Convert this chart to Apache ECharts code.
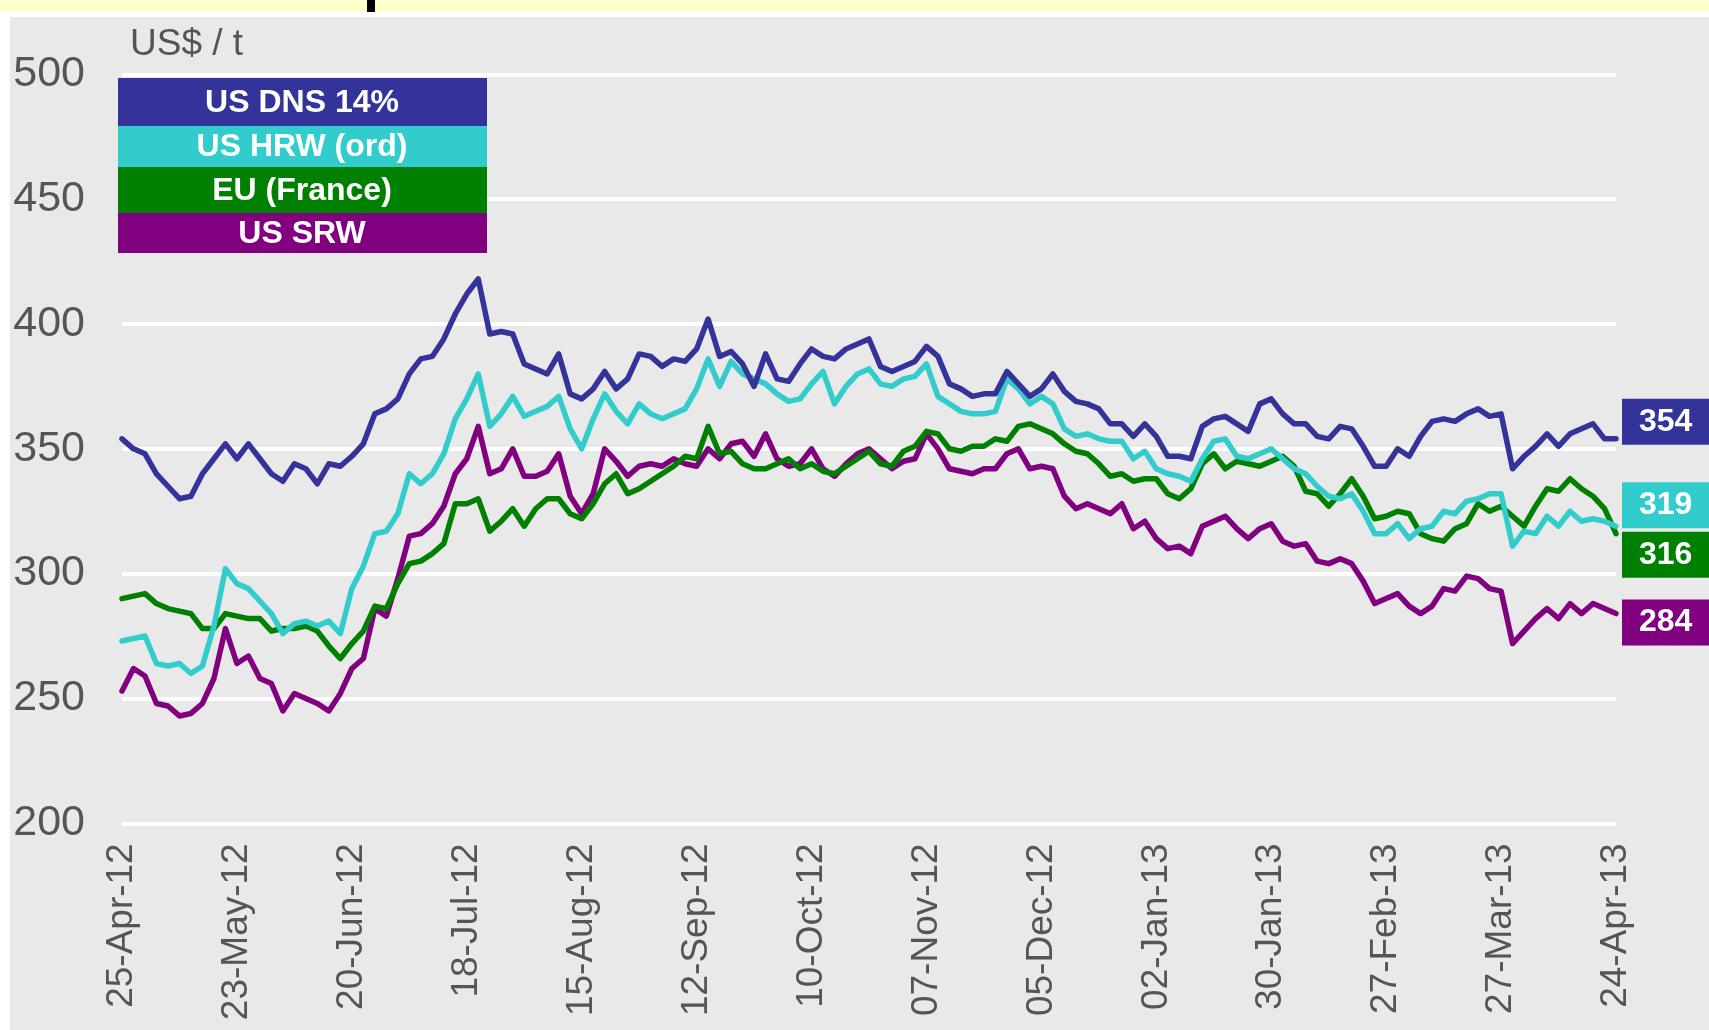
<!DOCTYPE html>
<html>
<head>
<meta charset="utf-8">
<script src="https://cdn.jsdelivr.net/npm/echarts@6/dist/echarts.min.js"></script>
<style>
  html, body { margin: 0; padding: 0; background: #ffffff; }
  #wrap { position: relative; width: 1709px; height: 1030px; overflow: hidden; }
  #topband { position: absolute; left: 0; top: 0; width: 1709px; height: 12px; background: #ffffcc; }
  #mark { position: absolute; left: 367px; top: 0; width: 8px; height: 12px; background: #000; }
  #panel { position: absolute; left: 10px; top: 17px; right: 0; bottom: 0; background: #e9e9e9; }
  #chart { position: absolute; left: 0; top: 0; width: 1709px; height: 1030px; }
</style>
</head>
<body>
<div id="wrap">
  <div id="topband"></div>
  <div id="mark"></div>
  <div id="panel"></div>
  <div id="chart"></div>
</div>
<script>
// Tick labels (every 20 business days = every 10th point; points are every 2 business days)
const tickLabels = ["25-Apr-12","23-May-12","20-Jun-12","18-Jul-12","15-Aug-12","12-Sep-12","10-Oct-12",
  "07-Nov-12","05-Dec-12","02-Jan-13","30-Jan-13","27-Feb-13","27-Mar-13","24-Apr-13"];
const seriesNames = ["US DNS 14%", "US HRW (ord)", "EU (France)", "US SRW"];
const seriesColors = ["#333399", "#33cccc", "#008000", "#800080"];

const usDns = [354,350,348,340,335,330,331,340,346,352,346,352,346,340,337,344,342,336,344,343,347,352,
  364,366,370,380,386,387,394,404,412,418,396,397,396,384,382,380,388,372,370,374,381,374,
  378,388,387,383,386,385,390,402,387,389,384,375,388,378,377,384,390,387,386,390,392,394,
  383,381,383,385,391,387,376,374,371,372,372,381,376,371,374,380,373,369,368,366,360,
  360,355,360,355,347,347,346,359,362,363,360,357,368,370,364,360,360,355,354,359,358,351,
  343,343,350,347,355,361,362,361,364,366,363,364,342,347,351,356,351,356,358,360,354,354];

const usHrw = [273,274,275,264,263,264,260,263,279,302,296,294,289,284,276,280,281,279,281,276,294,303,
  316,317,324,340,336,340,348,362,370,380,359,364,371,363,365,367,371,358,350,362,372,365,
  360,368,364,362,364,366,374,386,375,385,380,378,376,372,369,370,376,381,368,375,380,382,
  376,375,378,379,384,371,368,365,364,364,365,378,374,368,371,368,358,355,356,354,353,
  353,346,349,342,340,339,337,346,353,354,347,346,348,350,346,342,340,335,331,330,332,325,
  316,316,320,314,318,319,325,324,329,330,332,332,311,317,316,323,319,325,321,322,321,319];

const euFrance = [290,291,292,288,286,285,284,278,278,284,283,282,282,277,278,278,279,277,271,266,272,277,
  287,286,296,304,305,308,312,328,328,330,317,321,326,319,326,330,330,324,322,328,336,340,
  332,334,337,340,343,347,346,359,348,349,344,342,342,344,346,342,344,341,340,343,346,349,
  344,343,349,351,357,356,350,349,351,351,354,353,359,360,358,356,352,349,348,344,339,
  340,337,338,338,332,330,334,344,348,342,345,344,343,345,347,343,333,332,327,332,338,331,
  322,323,325,324,316,314,313,318,320,328,325,327,323,319,327,334,333,338,334,331,326,316];

const usSrw = [253,262,259,248,247,243,244,248,258,278,264,267,258,256,245,252,250,248,245,252,262,266,
  286,283,298,315,316,320,327,340,346,359,340,342,350,339,339,341,348,331,324,332,350,345,
  339,343,344,343,346,344,343,350,346,352,353,347,356,346,343,344,350,342,339,344,348,350,
  346,342,345,346,356,350,342,341,340,342,342,348,350,342,343,342,331,326,328,326,324,
  328,318,321,314,310,311,308,319,321,323,318,314,318,320,313,311,312,305,304,306,304,297,
  288,290,292,287,284,287,294,293,299,298,294,293,272,277,282,286,282,288,284,288,286,284];

const categories = usDns.map((_, i) => i);
const allSeries = [usDns, usHrw, euFrance, usSrw];
const endOffsets = [-17, -21, 21, 9];

const FONT = "'Liberation Sans', Arial, sans-serif";
const chart = echarts.init(document.getElementById('chart'), null, {renderer: 'canvas'});

const legendBands = [
  {y: 78, h: 48}, {y: 126, h: 41}, {y: 167, h: 46}, {y: 213, h: 40}
];
const graphics = [];
legendBands.forEach((b, i) => {
  graphics.push({type: 'rect', left: 118, top: b.y, z: 100,
    shape: {width: 369, height: b.h}, style: {fill: seriesColors[i]}});
  graphics.push({type: 'text', x: 302, y: b.y + b.h / 2 + 1, z: 101,
    style: {text: seriesNames[i], fill: '#ffffff', font: 'bold 32px ' + FONT,
      textAlign: 'center', textVerticalAlign: 'middle'}});
});
graphics.push({type: 'text', x: 130, y: 45, z: 101,
  style: {text: 'US$ / t', fill: '#555555', font: '37px ' + FONT, textAlign: 'left', textVerticalAlign: 'middle'}});

chart.setOption({
  backgroundColor: 'transparent',
  animation: false,
  grid: {left: 122, right: 93, top: 74.3, bottom: 206.7, containLabel: false},
  xAxis: {
    type: 'category', data: categories, boundaryGap: false,
    axisLine: {show: false}, axisTick: {show: false},
    axisLabel: {
      interval: (idx) => idx % 10 === 0,
      formatter: (v, idx) => tickLabels[idx / 10] || '',
      rotate: 90, margin: 20, fontSize: 37, color: '#555555', fontFamily: FONT
    },
    splitLine: {show: false}
  },
  yAxis: {
    type: 'value', min: 200, max: 500, interval: 50,
    axisLine: {show: false}, axisTick: {show: false},
    axisLabel: {margin: 37, fontSize: 43, color: '#555555', fontFamily: FONT},
    splitLine: {show: true, lineStyle: {color: '#ffffff', width: 4}}
  },
  graphic: graphics,
  series: allSeries.map((d, i) => ({
    name: seriesNames[i], type: 'line', data: d, showSymbol: false, symbol: 'none',
    lineStyle: {color: seriesColors[i], width: 5.5, join: 'round', cap: 'round'},
    itemStyle: {color: seriesColors[i]},
    z: 10 - i,
    endLabel: {
      show: true, formatter: (p) => String(p.value),
      backgroundColor: seriesColors[i], color: '#ffffff', fontWeight: 'bold',
      fontSize: 32, fontFamily: FONT, lineHeight: 36, padding: [5, 17, 5, 17],
      distance: 6, offset: [0, endOffsets[i]]
    }
  }))
});
</script>
</body>
</html>
